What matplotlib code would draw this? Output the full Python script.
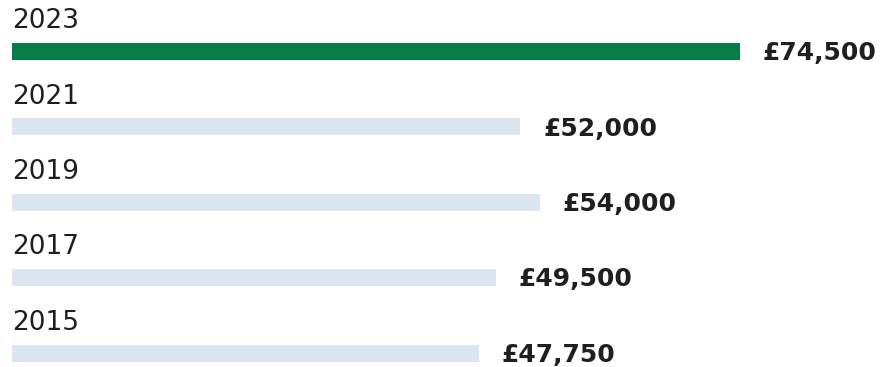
import matplotlib
matplotlib.use("Agg")
import matplotlib.pyplot as plt

# Salary by survey year, most recent first
years = ["2023", "2021", "2019", "2017", "2015"]
salaries = [74500, 52000, 54000, 49500, 47750]

highlight_color = "#077d47"
base_color = "#dce6f1"
text_color = "#1f1f1f"

W, H = 893, 367
fig = plt.figure(figsize=(W / 100, H / 100), dpi=100)

left_px = 12
scale = (740 - left_px) / max(salaries)  # pixels per pound
ax = fig.add_axes([left_px / W, 0, (W - left_px) / W, 1])
ax.set_xlim(0, (W - left_px) / scale)
ax.set_ylim(H, 0)
ax.axis("off")

row_gap = 75.5
first_center = 51
bar_h = 17
label_gap = 23 / scale

for i, (yr, val) in enumerate(zip(years, salaries)):
    yc = first_center + i * row_gap
    color = highlight_color if i == 0 else base_color
    ax.barh(yc, val, height=bar_h, left=0, color=color, edgecolor="none")
    ax.text(0, yc - bar_h / 2 - 14.5, yr, fontsize=19, color=text_color,
            va="baseline", ha="left")
    ax.text(val + label_gap, yc + 9, f"£{val:,}", fontsize=18, fontweight="bold",
            color=text_color, va="baseline", ha="left")

fig.savefig("out.png", dpi=100)
